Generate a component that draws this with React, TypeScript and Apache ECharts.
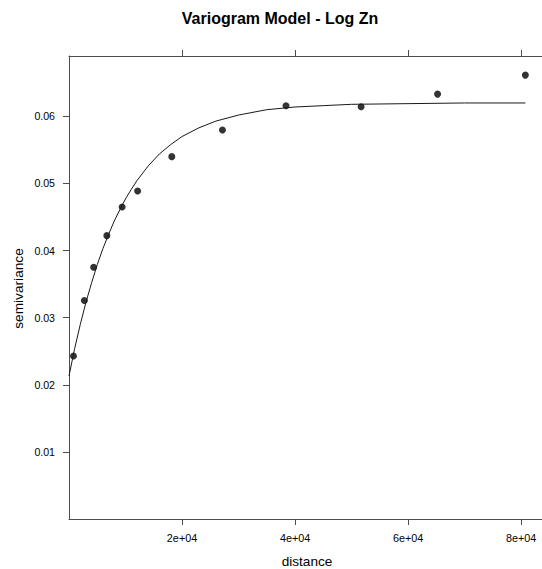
import React, { useEffect, useRef } from "react";
import * as echarts from "echarts";

// Empirical variogram (distance, semivariance)
const distances = [791, 2724, 4359, 6696, 9403, 12144, 18190, 27153, 38401, 51688, 65221, 80757];
const gammas = [0.0243, 0.03255, 0.03751, 0.04223, 0.04649, 0.04887, 0.054, 0.05796, 0.06159, 0.06145, 0.06332, 0.06615];

// Fitted model curve
const modelDist = [0, 1000, 2000, 3000, 4000, 5000, 6000, 7000, 8000, 9000, 10000, 11000, 12000, 14000, 16000, 18000, 20000, 23000, 26000, 30000, 35000, 40000, 45000, 50000, 60000, 70000, 80757];
const modelGamma = [0.0213, 0.0254, 0.029, 0.0323, 0.0352, 0.0379, 0.0403, 0.0424, 0.0444, 0.0461, 0.0477, 0.0491, 0.0504, 0.0526, 0.0544, 0.0558, 0.057, 0.0583, 0.0593, 0.0602, 0.061, 0.0614, 0.0616, 0.0618, 0.0619, 0.062, 0.062];

const xTicks = [20000, 40000, 60000, 80000];
const yTicks = [0.01, 0.02, 0.03, 0.04, 0.05, 0.06];

const titleText = "Variogram Model - Log Zn";
const xName = "distance";
const yName = "semivariance";

const FONT = "'Liberation Sans', Arial, sans-serif";
const LINE = "#4d4d4d";

export default function App() {
  const ref = useRef<HTMLDivElement>(null);
  useEffect(() => {
    if (!ref.current) return;
    const chart = echarts.init(ref.current, undefined, { renderer: "svg" });
    const common = { show: true, onZero: false, lineStyle: { color: LINE, width: 1 } };
    const tickX = { show: true, inside: false, length: 6, customValues: xTicks, lineStyle: { color: LINE } };
    const tickY = { show: true, inside: false, length: 6, customValues: yTicks, lineStyle: { color: LINE } };
    chart.setOption({
      animation: false,
      backgroundColor: "#fff",
      grid: { left: 69, top: 56, width: 476, height: 463 },
      xAxis: [
        {
          type: "value",
          position: "bottom",
          min: 0,
          max: 83700,
          interval: 20000,
          axisLine: common,
          axisTick: tickX,
          axisLabel: {
            customValues: xTicks,
            formatter: (v: number) => (v / 10000).toFixed(0) + "e+04",
            fontFamily: FONT,
            fontSize: 10.8,
            color: "#000",
            margin: 13,
          },
          splitLine: { show: false },
        },
        {
          type: "value",
          position: "top",
          min: 0,
          max: 83700,
          interval: 20000,
          axisLine: common,
          axisTick: tickX,
          axisLabel: { show: false },
          splitLine: { show: false },
        },
      ],
      yAxis: [
        {
          type: "value",
          position: "left",
          min: 0,
          max: 0.069,
          interval: 0.01,
          axisLine: common,
          axisTick: tickY,
          axisLabel: {
            customValues: yTicks,
            formatter: (v: number) => v.toFixed(2),
            fontFamily: FONT,
            fontSize: 10.6,
            color: "#000",
            margin: 14,
          },
          splitLine: { show: false },
        },
        {
          type: "value",
          position: "right",
          min: 0,
          max: 0.069,
          interval: 0.01,
          axisLine: common,
          axisTick: tickY,
          axisLabel: { show: false },
          splitLine: { show: false },
        },
      ],
      series: [
        {
          type: "line",
          xAxisIndex: 0,
          yAxisIndex: 0,
          data: modelDist.map((d, i) => [d, modelGamma[i]]),
          showSymbol: false,
          smooth: false,
          lineStyle: { color: "#1a1a1a", width: 1 },
          silent: true,
        },
        {
          type: "scatter",
          xAxisIndex: 0,
          yAxisIndex: 0,
          data: distances.map((d, i) => [d, gammas[i]]),
          symbol: "circle",
          symbolSize: 7,
          itemStyle: { color: "#000" },
        },
      ],
      graphic: [
        {
          type: "text",
          x: 280,
          y: 18,
          style: {
            text: titleText,
            fontFamily: FONT,
            fontWeight: "bold",
            fontSize: 16,
            fill: "#000",
            align: "center",
            verticalAlign: "middle",
          },
        },
        {
          type: "text",
          x: 307,
          y: 561.5,
          style: {
            text: xName,
            fontFamily: FONT,
            fontSize: 13.6,
            fill: "#000",
            align: "center",
            verticalAlign: "middle",
          },
        },
        {
          type: "text",
          x: 18,
          y: 288.5,
          rotation: Math.PI / 2,
          style: {
            text: yName,
            fontFamily: FONT,
            fontSize: 13.7,
            fill: "#000",
            align: "center",
            verticalAlign: "middle",
          },
        },
      ],
    });
    return () => chart.dispose();
  }, []);
  return (
    <div
      ref={ref}
      style={{ position: "fixed", left: 0, top: 0, width: 542, height: 569, background: "#fff" }}
    />
  );
}
